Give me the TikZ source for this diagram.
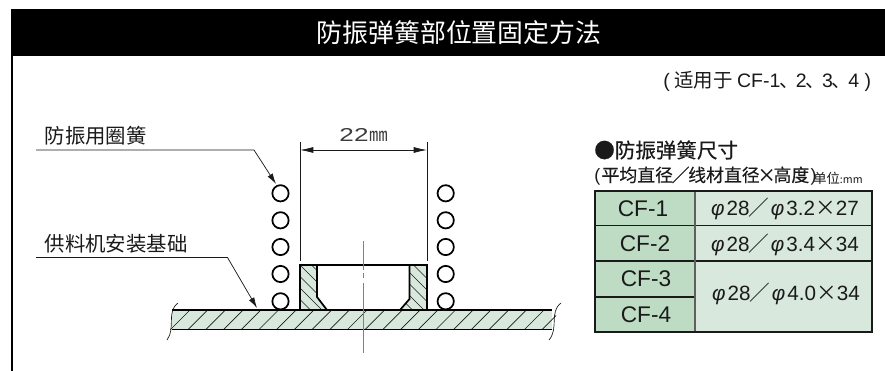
\documentclass[tikz,border=0pt]{standalone}
\usepackage{fontspec}
\setmainfont{Noto Sans CJK SC}
\newfontfamily\latinf{Liberation Sans}
\newfontfamily\medf[FakeBold=0.5]{Noto Sans CJK SC}
\newfontfamily\semif[FakeBold=0.25]{Noto Sans CJK SC}
\newcommand{\fz}[1]{\fontsize{#1}{#1}\selectfont}
\newcommand{\phis}{{\latinf\itshape φ}}
\newcommand{\lt}[1]{{\latinf #1}}
\newcommand{\val}[3]{\phis\kern1.5pt\lt{28}\kern-0.5pt／\kern1pt\phis\kern1.5pt\lt{#1}\kern#3×\kern#3\lt{#2}}
\definecolor{hdrgreen}{HTML}{BEDCC4}
\definecolor{palegreen}{HTML}{D8E8DC}
\definecolor{ink}{HTML}{1A1A1A}
\usetikzlibrary{arrows.meta}
\tikzset{
  px/.style={x=0.75pt,y=-0.75pt},
  coil/.style={circle,draw=black,line width=1.3pt,minimum size=12.2pt,inner sep=0pt},
  leader/.style={draw=ink,line width=0.55pt,-{Latex[length=8pt,width=4.5pt]}},
  thick part/.style={draw=black,line width=1.3pt},
  hatchl/.style={draw=ink,line width=0.5pt},
  labelt/.style={inner sep=0pt,anchor=center,text=ink},
  cellt/.style={inner sep=0pt,anchor=center,text=ink},
  grid dark/.style={draw=ink,line width=0.8pt},
}
\begin{document}
\begin{tikzpicture}[px]
\useasboundingbox (0,0) rectangle (885,371);
\fill[white] (0,0) rectangle (885,371);
% frame and title
\fill[black] (11,9) rectangle (885,56);
\fill[black] (11,56) rectangle (12.6,371);
\node[labelt,text=white] (title) at (459,33) {\fz{19.4}防振弹簧部位置固定方法};
\node[labelt,anchor=west] (scope note) at (663,81) {\fz{14.6}\lt{(}\kern3.5pt适用于 \lt{CF-1}\kern-1pt、\kern-2pt\lt{2}\kern-1pt、\kern-2pt\lt{3}\kern-1pt、\kern-2pt\lt{4}\kern4pt\lt{)}};
% plate fill and hatching
\fill[palegreen] (172,310) rectangle (552,329.5);
\begin{scope}
\clip (170,310) rectangle (556,329.5);
\foreach \i in {0,...,22} \draw[hatchl] ({170+\i*17.7},330) -- ({190+\i*17.7},310);
\end{scope}
% boss
\fill[palegreen] (300,265) -- (317,265) -- (317,297) -- (327,310) -- (300,310) -- cycle;
\fill[palegreen] (427,265) -- (409.5,265) -- (409.5,299) -- (400,310) -- (427,310) -- cycle;
\begin{scope}
\clip (300,265) -- (317,265) -- (317,297) -- (327,310) -- (300,310) -- cycle;
\foreach \i in {0,...,6} \draw[hatchl] (298,{240+\i*11.5}) -- (330,{272+\i*11.5});
\end{scope}
\begin{scope}
\clip (427,265) -- (409.5,265) -- (409.5,299) -- (400,310) -- (427,310) -- cycle;
\foreach \i in {0,...,6} \draw[hatchl] (398,{238+\i*11.5}) -- (430,{270+\i*11.5});
\end{scope}
\draw[thick part] (300,310) -- (300,265) -- (427,265) -- (427,310);
\draw[thick part] (317,265) -- (317,297) -- (327,310);
\draw[thick part] (409.5,265) -- (409.5,299) -- (400,310);
\draw[thick part] (172,310) -- (552,310);
\draw[thick part] (172,329.5) -- (552,329.5);
% break lines
\draw[draw=ink,line width=0.5pt] (178,303) .. controls (166,312) and (176,328) .. (167,340);
\draw[draw=ink,line width=0.5pt] (561,303) .. controls (549,312) and (559,328) .. (549,340);
% centre line
\draw[draw=gray,line width=0.7pt] (363,241) -- (363,270) (363,273) -- (363,278) (363,283) -- (363,353);
% coils
\foreach \n/\y in {1/193.3,2/220.3,3/247,4/274,5/301.3}{
  \node[coil] (l\n) at (280.5,\y) {};
  \node[coil] (r\n) at (445.7,\y) {};
}
% dimension
\coordinate (dl) at (300,150);
\coordinate (dr) at (427,150);
\draw[draw=ink,line width=0.5pt] (300,142) -- (300,260.5);
\draw[draw=ink,line width=0.5pt] (427,142) -- (427,260.5);
\draw[draw=ink,line width=0.55pt,{Latex[length=10pt,width=4.5pt]}-{Latex[length=10pt,width=4.5pt]}] (dl) -- (dr);
\node[labelt,text=ink!85] (dim) at (364,135) {\fz{14}\lt{\scalebox{1.4}[1]{22}}\kern1pt\raisebox{0pt}{\fz{14}㎜}};
% leaders
\node[labelt,anchor=west] (lab1) at (44.5,136) {\fz{15.3}防振用圈簧};
\node[labelt,anchor=west] (lab2) at (44.5,244) {\fz{15.3}供料机安装基础};
\coordinate (a1) at (36,150);
\coordinate (b1) at (254,150);
\coordinate (c1) at (276,184);
\coordinate (a2) at (36,257.5);
\coordinate (b2) at (227.5,257.5);
\coordinate (c2) at (257,308);
\draw[leader] (a1) -- (b1) -- (c1);
\draw[leader] (a2) -- (b2) -- (c2);
% table heading
\node[labelt,anchor=west] (tabh) at (594,150) {\fz{15.4}\medf ●防振弹簧尺寸};
\node[labelt,anchor=west] (tabs) at (594,176) {\fz{13.4}\semif\lt{(}\kern1pt平均直径\kern-1pt／\kern-1pt线材直径\kern-1.5pt×\kern-1.5pt高度\kern1pt\lt{)}};
\node[labelt,anchor=west] (unit) at (813,178) {\fz{10}单位\fz{8}:mm};
% table
\fill[hdrgreen] (595,191) rectangle (695,332);
\fill[palegreen] (695,191) rectangle (872,332);
\draw[grid dark] (595,225.5) -- (872,225.5);
\draw[grid dark] (595,261) -- (872,261);
\draw[grid dark] (595,297) -- (695,297);
\draw[draw=ink!70,line width=1pt] (695,191) -- (695,332);
\draw[draw=ink,line width=1.3pt] (595,191) rectangle (872,332);
\node[cellt] (c f1) at (643,208.5) {\fz{17}\lt{CF-1}};
\node[cellt] (c f2) at (645,244) {\fz{17}\lt{CF-2}};
\node[cellt] (c f3) at (646,279) {\fz{17}\lt{CF-3}};
\node[cellt] (c f4) at (646,315) {\fz{17}\lt{CF-4}};
\node[cellt] (v1) at (785,208.5) {\fz{15.5}\val{3.2}{27}{0pt}};
\node[cellt] (v2) at (785,244.5) {\fz{15.5}\val{3.4}{34}{0pt}};
\node[cellt] (v3) at (786,294) {\fz{15.5}\val{4.0}{34}{0pt}};
\end{tikzpicture}
\end{document}
